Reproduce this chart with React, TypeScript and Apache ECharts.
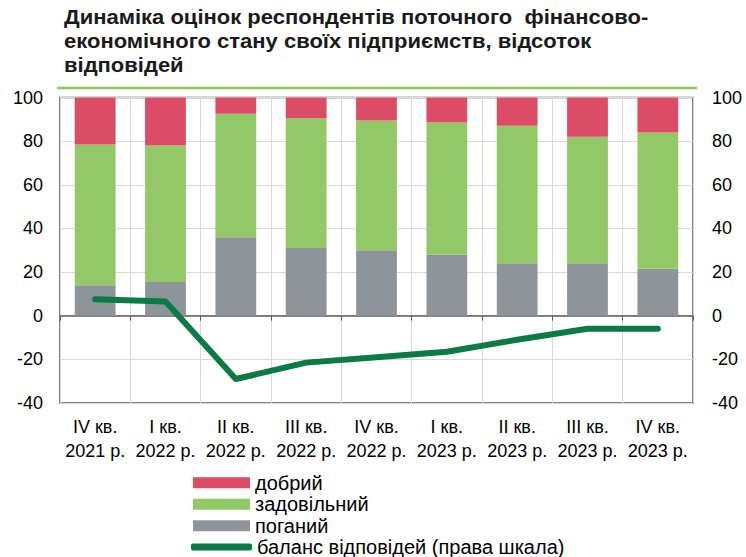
import React, { useEffect, useRef } from "react";
import * as echarts from "echarts";

const categories = [
  "IV кв.\n2021 р.",
  "I кв.\n2022 р.",
  "II кв.\n2022 р.",
  "III кв.\n2022 р.",
  "IV кв.\n2022 р.",
  "I кв.\n2023 р.",
  "II кв.\n2023 р.",
  "III кв.\n2023 р.",
  "IV кв.\n2023 р.",
];
const poor = [14, 15.5, 36, 31, 30, 28, 24, 24, 21.5];
const satisfactory = [64.5, 62.5, 56.5, 59.5, 59.5, 60.5, 63, 58, 62.5];
const good = [21.5, 22, 7.5, 9.5, 10.5, 11.5, 13, 18, 16];
const balance = [7.5, 6.5, -29, -21.5, -19, -16.5, -11, -6, -6];

const titleText =
  "Динаміка оцінок респондентів поточного  фінансово-\nекономічного стану своїх підприємств, відсоток\nвідповідей";

const NAME_GOOD = "добрий";
const NAME_SAT = "задовільний";
const NAME_POOR = "поганий";
const NAME_BAL = "баланс відповідей (права шкала)";

const FONT = "'Liberation Sans', Arial, sans-serif";

export default function App() {
  const ref = useRef<HTMLDivElement>(null);
  useEffect(() => {
    if (!ref.current) return;
    const chart = echarts.init(ref.current, null, { renderer: "svg" });
    const axisLabelStyle = { color: "#000", fontSize: 18, fontFamily: FONT };
    chart.setOption({
      animation: false,
      backgroundColor: "#fff",
      graphic: [
        {
          type: "text",
          x: 64,
          y: 5,
          scaleX: 1.1,
          style: {
            text: titleText,
            font: "bold 20px 'Liberation Sans', Arial, sans-serif",
            lineHeight: 24,
            fill: "#1a1a1a",
            textVerticalAlign: "top",
          },
        },
        {
          type: "line",
          shape: { x1: 57, y1: 88, x2: 697, y2: 88 },
          style: { stroke: "#8CC45F", lineWidth: 2.5 },
        },
      ],
      grid: {
        left: 60,
        right: 53,
        top: 97.5,
        bottom: 154,
        show: true,
        borderColor: "#5a5a5a",
        borderWidth: 1.5,
        backgroundColor: "transparent",
      },
      legend: [
        {
          data: [NAME_GOOD, NAME_SAT, NAME_POOR],
          orient: "vertical",
          left: 193,
          top: 472,
          padding: 0,
          itemWidth: 57,
          itemHeight: 11,
          itemGap: 0,
          icon: "rect",
          textStyle: { color: "#000", fontSize: 20, fontFamily: FONT, lineHeight: 21.5 },
        },
        {
          data: [NAME_BAL],
          orient: "vertical",
          left: 191,
          top: 537,
          padding: 0,
          itemWidth: 61,
          itemHeight: 7,
          icon: "roundRect",
          textStyle: { color: "#000", fontSize: 20, fontFamily: FONT, lineHeight: 20 },
        },
      ],
      xAxis: [
        {
          type: "category",
          data: categories,
          position: "bottom",
          axisLine: { show: false, onZero: false },
          axisTick: { show: false },
          axisLabel: { ...axisLabelStyle, lineHeight: 24, margin: 12, interval: 0, hideOverlap: false },
          splitLine: { show: true, interval: 0, lineStyle: { color: "#d9d9d9", width: 1 } },
        },
        {
          type: "category",
          data: categories,
          position: "bottom",
          axisLine: { show: true, onZero: true, onZeroAxisIndex: 0, lineStyle: { color: "#5a5a5a", width: 1.5 } },
          axisTick: { show: true, inside: false, interval: 0, length: 5, lineStyle: { color: "#5a5a5a", width: 1 } },
          axisLabel: { show: false },
          splitLine: { show: false },
        },
      ],
      yAxis: [
        {
          type: "value",
          min: -40,
          max: 100,
          interval: 20,
          axisLine: { show: false },
          axisTick: { show: false },
          axisLabel: { ...axisLabelStyle, margin: 17 },
          splitLine: { show: true, lineStyle: { color: "#d9d9d9", width: 1 } },
        },
        {
          type: "value",
          min: -40,
          max: 100,
          interval: 20,
          position: "right",
          axisLine: { show: false },
          axisTick: { show: false },
          axisLabel: { ...axisLabelStyle, margin: 19 },
          splitLine: { show: false },
        },
      ],
      series: [
        {
          name: NAME_POOR,
          type: "bar",
          stack: "s",
          data: poor,
          barWidth: "58%",
          itemStyle: { color: "#8D959B" },
        },
        {
          name: NAME_SAT,
          type: "bar",
          stack: "s",
          data: satisfactory,
          barWidth: "58%",
          itemStyle: { color: "#93C866" },
        },
        {
          name: NAME_GOOD,
          type: "bar",
          stack: "s",
          data: good,
          barWidth: "58%",
          itemStyle: { color: "#DD4C66" },
        },
        {
          name: NAME_BAL,
          type: "line",
          yAxisIndex: 1,
          data: balance,
          symbol: "none",
          itemStyle: { color: "#0A7B45" },
          lineStyle: { color: "#0A7B45", width: 6, cap: "round", join: "round" },
          z: 5,
        },
      ],
    });
    return () => chart.dispose();
  }, []);
  return (
    <div
      ref={ref}
      style={{ position: "fixed", left: 0, top: 0, width: 746, height: 557 }}
    />
  );
}
